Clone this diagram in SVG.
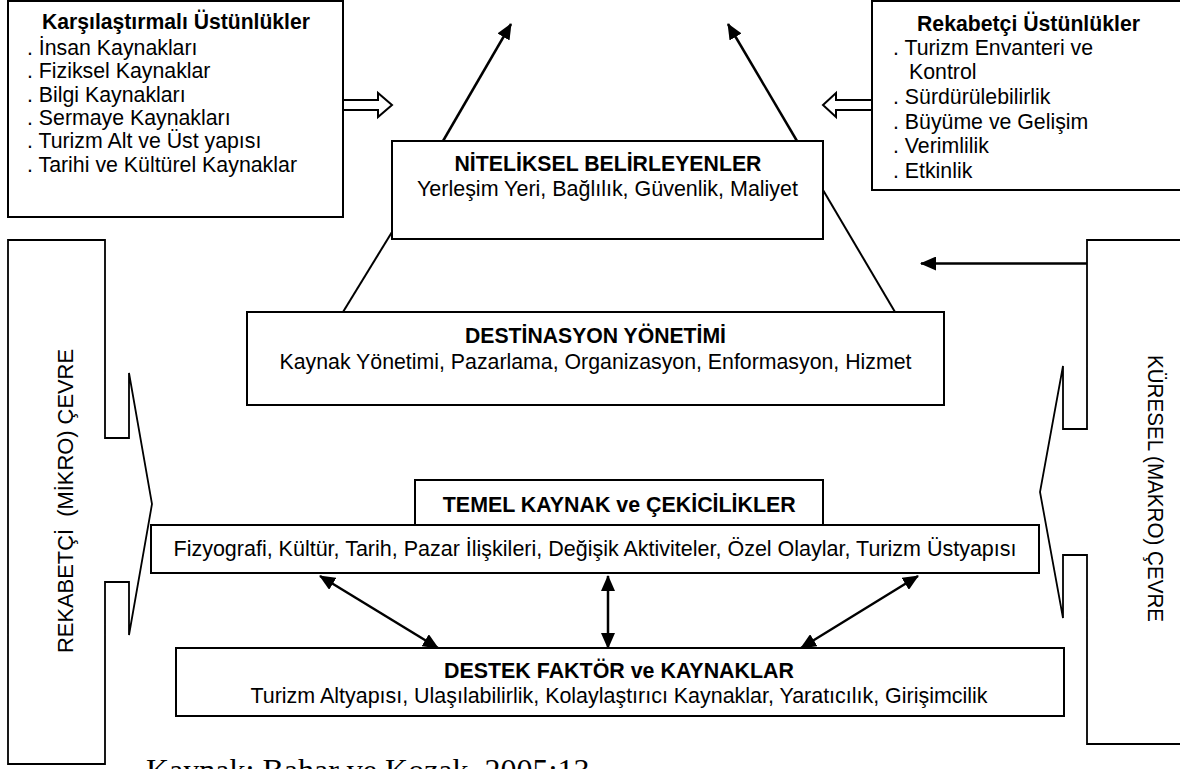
<svg xmlns="http://www.w3.org/2000/svg" width="1180" height="769" viewBox="0 0 1180 769">
  <style>
    .box { fill: #ffffff; stroke: #000000; stroke-width: 2; }
    .brk { fill: #ffffff; stroke: #000000; stroke-width: 1.8; stroke-linejoin: miter; }
    .t { font-family: "Liberation Sans", Arial, sans-serif; font-size: 21.3px; fill: #000000; }
    .b { font-weight: bold; }
    .c { text-anchor: middle; }
    .ln { stroke: #000000; stroke-width: 2.5; fill: none; }
    .thin { stroke: #000000; stroke-width: 2; fill: none; }
    .blk { fill: #ffffff; stroke: #000000; stroke-width: 2; stroke-linejoin: miter; }
    .cap { font-family: "Liberation Serif", "Times New Roman", serif; font-size: 32px; fill: #000000; }
  </style>
  <defs>
    <marker id="ah" viewBox="0 0 16 14" refX="15" refY="7" markerWidth="16" markerHeight="14" orient="auto-start-reverse" markerUnits="userSpaceOnUse">
      <path d="M0,0 L16,7 L0,14 z" fill="#000000"/>
    </marker>
  </defs>
  <rect x="0" y="0" width="1180" height="769" fill="#ffffff"/>

  <g id="mikro-cevre">
    <polygon class="brk" points="8,240 105,240 105,438 129,438 129,373 152,504 129,635 129,582 105,582 105,764 8,764"/>
    <text class="t c" transform="translate(73,501) rotate(-90)" textLength="304" lengthAdjust="spacingAndGlyphs" xml:space="preserve">REKABETÇİ  (MİKRO) ÇEVRE</text>
  </g>

  <g id="makro-cevre">
    <polyline class="brk" points="1190,240 1087,240 1087,429 1063,429 1063,366 1040,492 1063,618 1063,555 1087,555 1087,744 1190,744"/>
    <text class="t c" transform="translate(1148,488.5) rotate(90)" textLength="267" lengthAdjust="spacingAndGlyphs">KÜRESEL (MAKRO) ÇEVRE</text>
  </g>

  <g id="karsilastirmali">
    <rect class="box" x="8" y="1" width="335" height="216"/>
    <text class="t b" x="42" y="28.5" textLength="268" lengthAdjust="spacingAndGlyphs">Karşılaştırmalı Üstünlükler</text>
    <text class="t" x="27" y="55">. İnsan Kaynakları</text>
    <text class="t" x="27" y="78.3">. Fiziksel Kaynaklar</text>
    <text class="t" x="27" y="101.6">. Bilgi Kaynakları</text>
    <text class="t" x="27" y="125">. Sermaye Kaynakları</text>
    <text class="t" x="27" y="148.3">. Turizm Alt ve Üst yapısı</text>
    <text class="t" x="27" y="171.6" textLength="270" lengthAdjust="spacingAndGlyphs">. Tarihi ve Kültürel Kaynaklar</text>
  </g>

  <g id="rekabetci">
    <rect class="box" x="872" y="1" width="320" height="189"/>
    <text class="t b" x="917" y="30.5" textLength="223" lengthAdjust="spacingAndGlyphs">Rekabetçi Üstünlükler</text>
    <text class="t" x="893" y="55">. Turizm Envanteri ve</text>
    <text class="t" x="909" y="79">Kontrol</text>
    <text class="t" x="893" y="104">. Sürdürülebilirlik</text>
    <text class="t" x="893" y="128.5">. Büyüme ve Gelişim</text>
    <text class="t" x="893" y="153">. Verimlilik</text>
    <text class="t" x="893" y="177.5">. Etkinlik</text>
  </g>

  <g id="connectors">
    <polygon class="blk" points="343,100 378,100 378,93 392,105 378,117 378,110 343,110"/>
    <polygon class="blk" points="872,100 836,100 836,93 823,105 836,117 836,110 872,110"/>
    <line class="ln" x1="443" y1="141" x2="511" y2="24" marker-end="url(#ah)"/>
    <line class="ln" x1="797" y1="141" x2="728" y2="24" marker-end="url(#ah)"/>
    <line class="thin" x1="343" y1="312" x2="392" y2="232"/>
    <line class="thin" x1="895" y1="312" x2="823" y2="190"/>
    <line class="ln" x1="1087" y1="263.5" x2="921" y2="263.5" marker-end="url(#ah)"/>
    <line class="ln" x1="320" y1="576" x2="438" y2="648" marker-start="url(#ah)" marker-end="url(#ah)"/>
    <line class="ln" x1="608" y1="576" x2="608" y2="648" marker-start="url(#ah)" marker-end="url(#ah)"/>
    <line class="ln" x1="918" y1="576" x2="801" y2="648" marker-start="url(#ah)" marker-end="url(#ah)"/>
  </g>

  <g id="niteliksel">
    <rect class="box" x="392" y="141" width="431" height="98"/>
    <text class="t b c" x="608" y="170.7" textLength="307" lengthAdjust="spacingAndGlyphs">NİTELİKSEL BELİRLEYENLER</text>
    <text class="t c" x="607.5" y="195.7" textLength="381" lengthAdjust="spacingAndGlyphs">Yerleşim Yeri, Bağlılık, Güvenlik, Maliyet</text>
  </g>

  <g id="destinasyon">
    <rect class="box" x="247" y="312" width="697" height="93"/>
    <text class="t b c" x="595.5" y="342.7" textLength="261" lengthAdjust="spacingAndGlyphs">DESTİNASYON YÖNETİMİ</text>
    <text class="t c" x="595.5" y="369" textLength="632" lengthAdjust="spacingAndGlyphs">Kaynak Yönetimi, Pazarlama, Organizasyon, Enformasyon, Hizmet</text>
  </g>

  <g id="temel">
    <rect class="box" x="415" y="480" width="408" height="45"/>
    <text class="t b c" x="619.3" y="512.3" textLength="353" lengthAdjust="spacingAndGlyphs">TEMEL KAYNAK ve ÇEKİCİLİKLER</text>
    <rect class="box" x="151" y="525" width="888" height="48"/>
    <text class="t c" x="595" y="555.7" textLength="843" lengthAdjust="spacingAndGlyphs">Fizyografi, Kültür, Tarih, Pazar İlişkileri, Değişik Aktiviteler, Özel Olaylar, Turizm Üstyapısı</text>
  </g>

  <g id="destek">
    <rect class="box" x="176" y="648" width="888" height="68"/>
    <text class="t b c" x="619" y="678.3" textLength="350" lengthAdjust="spacingAndGlyphs">DESTEK FAKTÖR ve KAYNAKLAR</text>
    <text class="t c" x="619" y="703.3" textLength="737" lengthAdjust="spacingAndGlyphs">Turizm Altyapısı, Ulaşılabilirlik, Kolaylaştırıcı Kaynaklar, Yaratıcılık, Girişimcilik</text>
  </g>

  <g id="caption">
    <text class="cap" x="146" y="781">Kaynak: Bahar ve Kozak, 2005:13</text>
  </g>
</svg>
